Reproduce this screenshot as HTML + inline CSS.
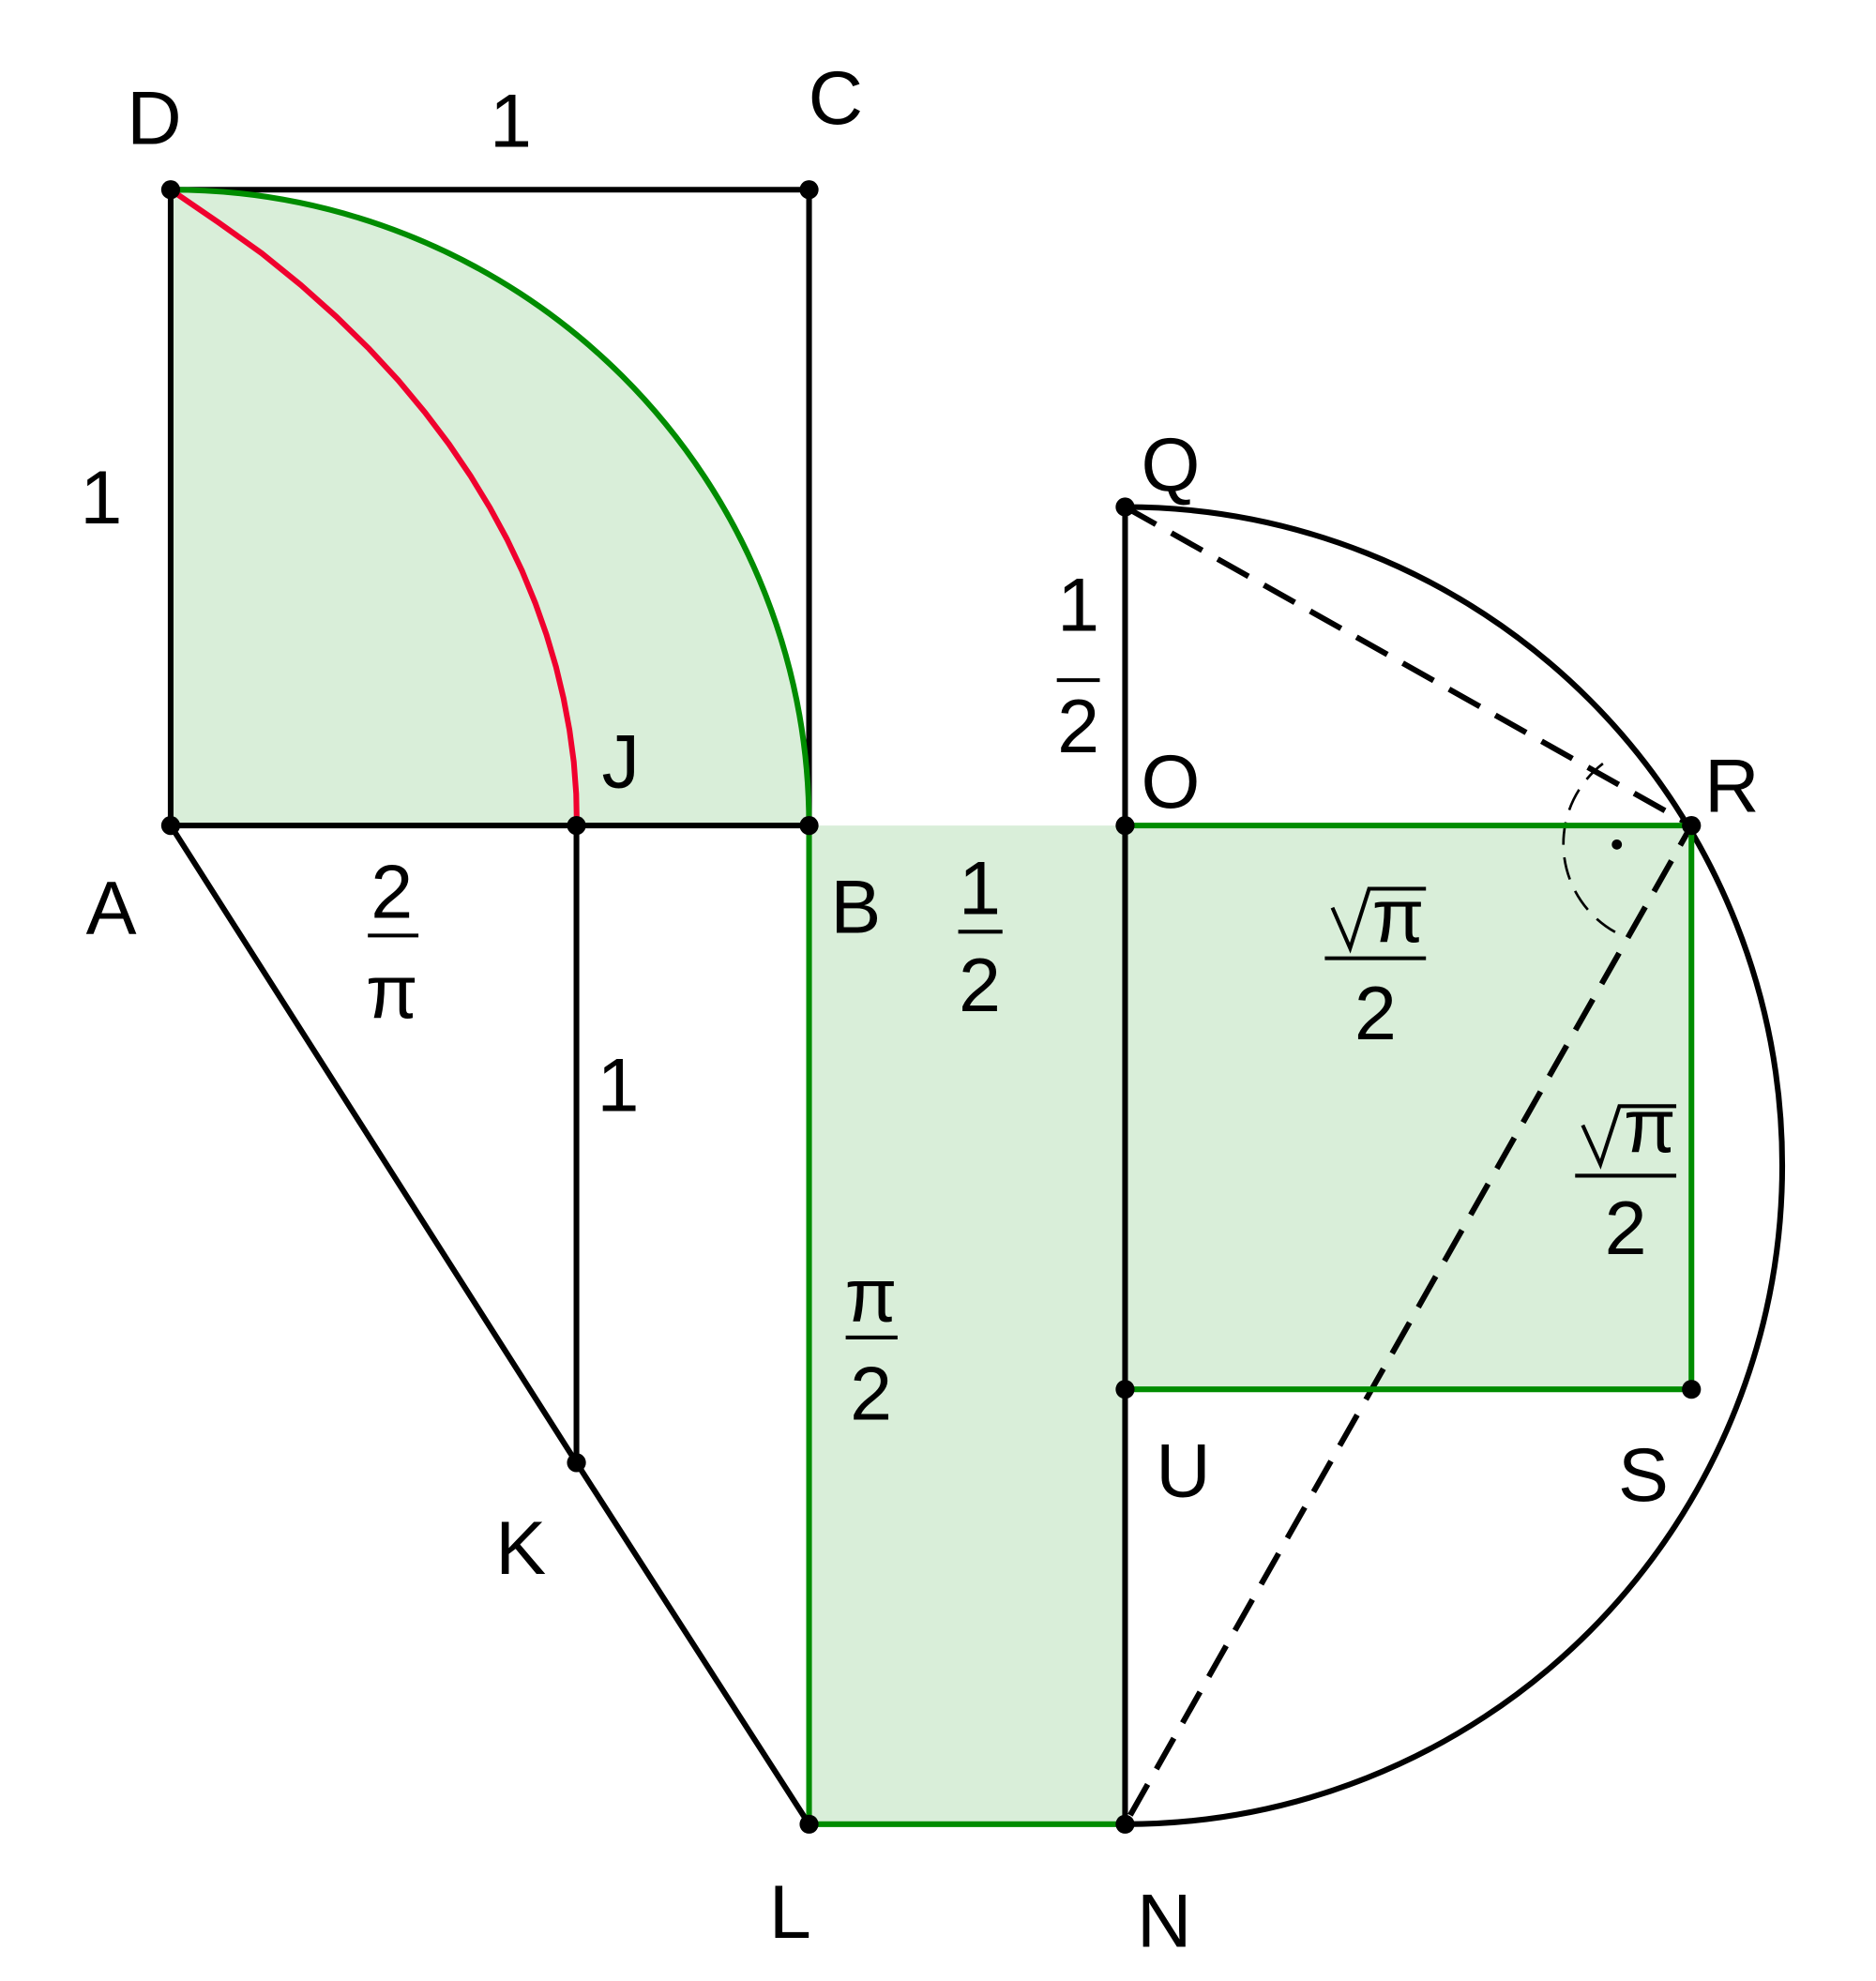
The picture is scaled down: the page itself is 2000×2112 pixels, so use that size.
<!DOCTYPE html>
<html><head><meta charset="utf-8"><style>html,body{margin:0;padding:0;background:#fff}svg{display:block}</style></head>
<body>
<svg width="2000" height="2112" viewBox="0 0 1484 1567" xmlns="http://www.w3.org/2000/svg" font-family="Liberation Sans, Arial, sans-serif" font-size="60" text-anchor="middle">
<rect width="1484" height="1567" fill="#fff"/>
<path d="M135,653 L135,150 A505,503 0 0 1 640,653 Z" fill="#d9eed9"/>
<rect x="640" y="653" width="250" height="790" fill="#d9eed9"/>
<rect x="890" y="653" width="448" height="446" fill="#d9eed9"/>
<g stroke="#000" stroke-width="4.5" fill="none">
<path d="M135,653 L135,150 L640,150 L640,653"/>
<path d="M135,653 L640,653"/>
<path d="M456,653 L456,1157"/>
<path d="M135,653 L456,1157 L640,1443"/>
<path d="M890,401 L890,1443"/>
<path d="M890,401 A520,521 0 0 1 890,1443"/>
<path d="M890,401 L1338,653 L890,1443" stroke-dasharray="28,14"/>
<path d="M1268,604 A80,80 0 0 0 1283,740" stroke-width="2" stroke-dasharray="18,10"/>
</g>
<g stroke="#008c00" stroke-width="4.5" fill="none">
<path d="M135,150 A505,503 0 0 1 640,653"/>
<path d="M640,653 L640,1443 L890,1443"/>
<path d="M890,653 L1338,653 L1338,1099 L890,1099"/>
</g>
<path d="M135,150 L172.8,175.9 L207,200.3 L238.1,225.5 L266.2,250.6 L291.9,275.8 L315.1,300.9 L336.1,326.1 L355.1,351.2 L372.2,376.4 L387.5,401.5 L401.1,426.6 L413.1,451.8 L423.4,476.9 L432.3,502.1 L439.8,527.3 L445.8,552.4 L450.5,577.5 L453.9,602.7 L455.8,627.9 L456.3,653" stroke="#f0002e" stroke-width="4.5" fill="none" stroke-linejoin="round"/>
<g fill="#000">
<circle cx="135" cy="150" r="7.5"/><circle cx="640" cy="150" r="7.5"/>
<circle cx="135" cy="653" r="7.5"/><circle cx="456" cy="653" r="7.5"/>
<circle cx="640" cy="653" r="7.5"/><circle cx="890" cy="653" r="7.5"/>
<circle cx="456" cy="1157" r="7.5"/><circle cx="640" cy="1443" r="7.5"/>
<circle cx="890" cy="1443" r="7.5"/><circle cx="890" cy="401" r="7.5"/>
<circle cx="1338" cy="653" r="7.5"/><circle cx="1338" cy="1099" r="7.5"/>
<circle cx="890" cy="1099" r="7.5"/>
<circle cx="1279" cy="668" r="4"/>
</g>
<g fill="#000">
<text x="122" y="114">D</text>
<text x="404" y="116">1</text>
<text x="661" y="98">C</text>
<text x="80" y="414">1</text>
<text x="926" y="388">Q</text>
<text x="491" y="623">J</text>
<text x="926" y="639">O</text>
<text x="1370" y="642">R</text>
<text x="88" y="739">A</text>
<text x="677" y="738">B</text>
<text x="412" y="1245">K</text>
<text x="936" y="1184">U</text>
<text x="1300" y="1187">S</text>
<text x="625" y="1533">L</text>
<text x="921" y="1540">N</text>
<text x="489" y="879">1</text>
<text x="853" y="499">1</text><text x="853" y="595">2</text>
<text x="310" y="726">2</text><text x="310" y="805">π</text>
<text x="775" y="723">1</text><text x="775" y="800">2</text>
<text x="689" y="1045">π</text><text x="689" y="1123">2</text>
<text x="1088" y="822">2</text>
<text x="1286" y="992">2</text>
<text x="1106" y="745">π</text>
<text x="1305" y="911">π</text>
</g>
<g stroke="#000" stroke-width="3" fill="none">
<path d="M836,538 L870,538"/>
<path d="M291,740 L331,740"/>
<path d="M758,737 L793,737"/>
<path d="M669,1058 L710,1058"/>
<path d="M1048,758 L1128,758"/>
<path d="M1246,930 L1326,930"/>
<path d="M1054,718 L1068,750 L1083,703 L1128,703"/>
<path d="M1252,890 L1266,921 L1281,875 L1326,875"/>
</g>
</svg>
</body></html>
